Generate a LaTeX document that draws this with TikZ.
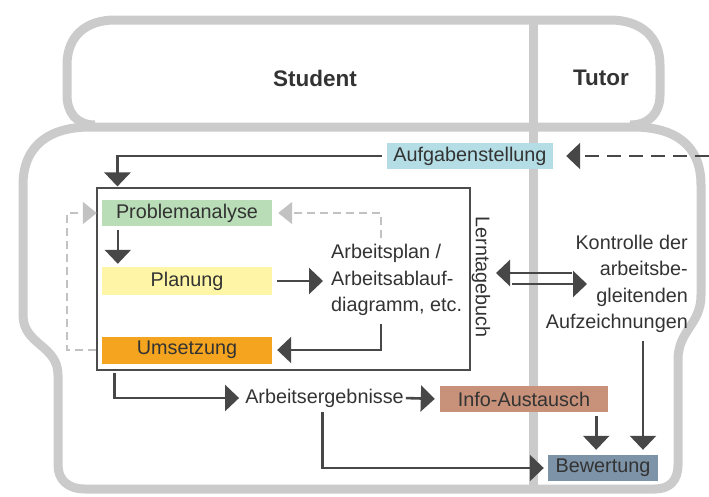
\documentclass[tikz,border=0pt]{standalone}
\usepackage{fontspec}
\setmainfont{Liberation Sans}
\usetikzlibrary{arrows.meta}
\definecolor{sofac}{HTML}{CBCBCB}
\definecolor{arrc}{HTML}{474747}
\definecolor{lgray}{HTML}{C2C2C2}
\definecolor{txtc}{HTML}{333333}
\definecolor{cAuf}{HTML}{B4DDE5}
\definecolor{cProb}{HTML}{B9DDB6}
\definecolor{cPlan}{HTML}{FEF6A6}
\definecolor{cUms}{HTML}{F4A41E}
\definecolor{cInfo}{HTML}{C8917A}
\definecolor{cBew}{HTML}{7D93A8}
\tikzset{
  sofa/.style={draw=sofac, line width=9pt, line join=round},
  lab/.style={text=txtc, inner sep=0pt, font=\fontsize{19.8}{26.5}\selectfont},
  boldlab/.style={text=txtc, inner sep=0pt, font=\fontsize{22.5}{26}\selectfont\bfseries},
  stagebox/.style={lab, minimum width=170pt, minimum height=26pt},
  arr/.style={draw=arrc, line width=2.6pt, -{Triangle[length=14pt,width=26pt]}},
  dasharr/.style={arr, dash pattern=on 14pt off 8pt},
  garr/.style={draw=lgray, line width=2pt, dash pattern=on 8pt off 5pt, -{Triangle[length=14pt,width=22pt]}},
}
\begin{document}
\begin{tikzpicture}[x=1pt,y=-1pt]
\useasboundingbox (0,0) rectangle (709,496);
% sofa outline
\draw[sofa] (95,125) .. controls (76,125) and (67,112) .. (67,95) -- (67,65)
  .. controls (67,36) and (86,20) .. (115,20) -- (610,20)
  .. controls (640,20) and (660,36) .. (660,65) -- (660,95)
  .. controls (660,112) and (650,125) .. (630,125);
\draw[sofa] (90,127) -- (633,127) .. controls (675,127) and (701,145) .. (701,185)
  -- (701,295) .. controls (701,325) and (678,330) .. (678,360)
  -- (678,465) .. controls (678,480) and (670,489) .. (655,489)
  -- (85,489) .. controls (68,489) and (58,480) .. (58,465)
  -- (58,375) .. controls (58,345) and (23,345) .. (23,315)
  -- (23,185) .. controls (23,145) and (50,127) .. (90,127) -- cycle;
\draw[sofa] (533,20) -- (533,489);

% headers
\node[boldlab] (stu) at (315,78) {Student};
\node[boldlab] (tut) at (601,78) {Tutor};

% nodes
\node[stagebox, fill=cAuf, minimum width=166pt] (auf) at (470,156) {Aufgabenstellung};
\node[draw=black!70, line width=1.1pt, minimum width=373pt, minimum height=182pt, inner sep=0pt] (main) at (283.5,279) {};
\node[stagebox, fill=cProb] (prob) at (187,213) {Problemanalyse};
\node[stagebox, fill=cPlan, minimum height=28pt] (plan) at (187,281) {Planung};
\node[stagebox, fill=cUms, minimum height=27pt] (ums) at (187,350) {Umsetzung};
\node[lab, align=left, anchor=west] (ap) at (331,280) {Arbeitsplan /\\Arbeitsablauf-\\diagramm, etc.};
\node[lab, rotate=-90] (lt) at (481,277) {Lerntagebuch};
\node[lab, align=right, anchor=east] (ko) at (688,284) {Kontrolle der\\arbeitsbe-\\gleitenden\\Aufzeichnungen};
\node[lab] (erg) at (324.5,398) {Arbeitsergebnisse};
\node[stagebox, fill=cInfo, minimum width=168pt] (info) at (524,399) {Info-Austausch};
\node[stagebox, fill=cBew, minimum width=110pt] (bew) at (603,468) {Bewertung};

\coordinate (tutin) at (709,156);
\coordinate (gs) at (381,238);
\coordinate (dA) at (496,273);
\coordinate (dB) at (572,273);
\coordinate (dC) at (512,284);
\coordinate (dD) at (587,284);

% connectors
\draw[arr, shorten <=5pt, shorten >=1pt] (auf.west) -| ([xshift=21pt]main.north west);
\draw[dasharr, shorten >=13pt] (tutin) -- (auf.east);
\draw[arr, shorten <=4pt, shorten >=3pt] ([xshift=16pt]prob.south west) -- ([xshift=16pt]plan.north west);
\draw[arr, shorten <=5pt, shorten >=8pt] (plan.east) -- (plan.east -| ap.west);
\draw[arr, shorten >=5pt] ([xshift=50pt,yshift=-8pt]ap.south west) |- (ums.east);
\draw[garr, shorten >=6pt] (gs) |- (prob.east);
\draw[garr, shorten >=5pt] (main.west |- ums.west) -- ++(-29,0) |- (prob.west);
\draw[arr, shorten <=2pt, shorten >=6pt] ([xshift=18pt]main.south west) |- (erg.west);
\draw[arr, shorten <=2pt, shorten >=5pt] (erg.east) -- (info.west);
\draw[arr, shorten <=5pt, shorten >=4pt] ([xshift=-2pt]erg.south) |- (bew.west);
\draw[arr, shorten <=4pt, shorten >=5pt] ([xshift=-12pt]info.south east) -- ([xshift=-12pt]info.south east |- bew.north);
\draw[arr, shorten <=8pt, shorten >=5pt] ([xshift=-45pt]ko.south east) -- ([xshift=-45pt]ko.south east |- bew.north);
\draw[arr] (dB) -- (dA);
\draw[arr] (dC) -- (dD);
\end{tikzpicture}
\end{document}
